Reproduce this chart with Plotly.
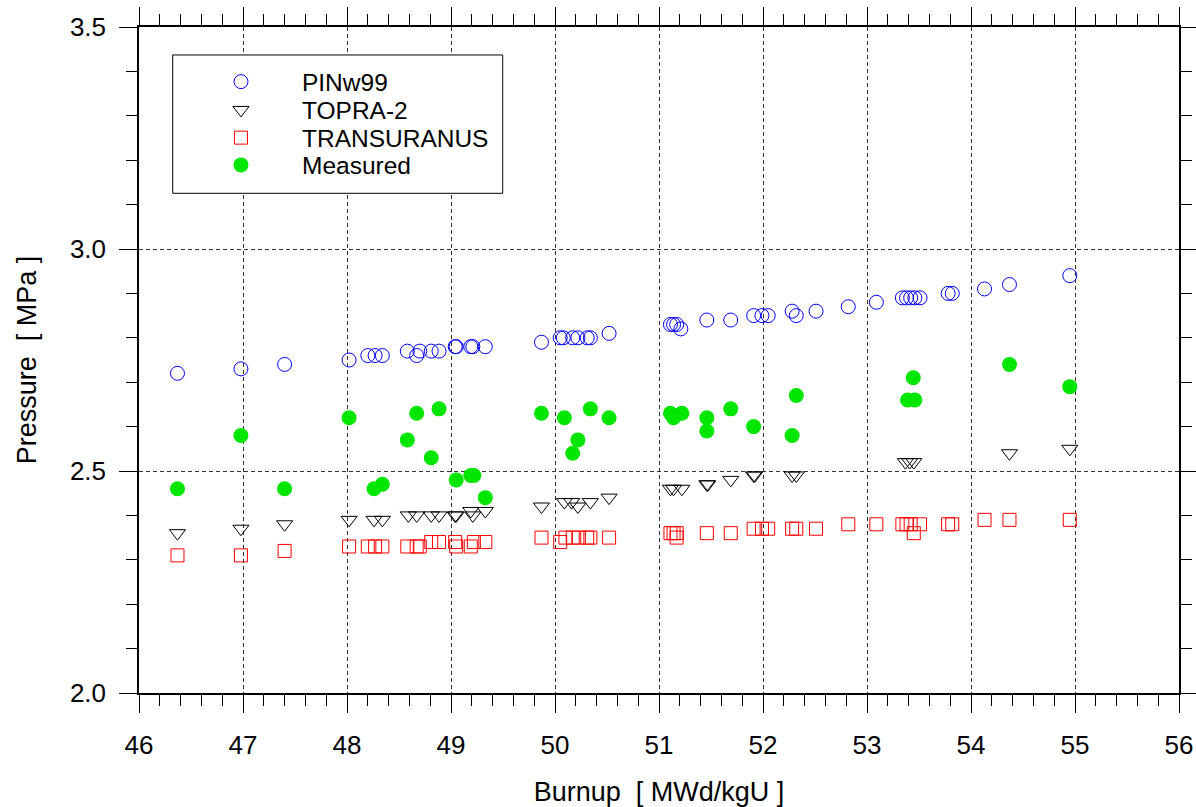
import plotly.graph_objects as go

# ---------------- data ----------------
pin_x = [46.37, 46.98, 47.40, 48.02, 48.20, 48.27, 48.34, 48.58, 48.67, 48.70, 48.81, 48.885,
         49.04, 49.05, 49.19, 49.21, 49.33, 49.87, 50.05, 50.08, 50.17, 50.22, 50.31, 50.34,
         50.52, 51.11, 51.14, 51.17, 51.21, 51.46, 51.69, 51.91, 51.99, 52.05, 52.28, 52.32,
         52.51, 52.82, 53.09, 53.34, 53.38, 53.42, 53.46, 53.51, 53.78, 53.82, 54.13, 54.37, 54.95]
pin_y = [2.72, 2.73, 2.74, 2.75, 2.76, 2.76, 2.76, 2.77, 2.76, 2.77, 2.77, 2.77,
         2.78, 2.78, 2.78, 2.78, 2.78, 2.79, 2.80, 2.80, 2.80, 2.80, 2.80, 2.80,
         2.81, 2.83, 2.83, 2.83, 2.82, 2.84, 2.84, 2.85, 2.85, 2.85, 2.86, 2.85,
         2.86, 2.87, 2.88, 2.89, 2.89, 2.89, 2.89, 2.89, 2.90, 2.90, 2.91, 2.92, 2.94]

topra_x = [46.37, 46.98, 47.40, 48.02, 48.26, 48.34, 48.59, 48.67, 48.81, 48.885, 49.04, 49.05,
           49.19, 49.21, 49.33, 49.87, 50.09, 50.16, 50.22, 50.34, 50.52, 51.11, 51.14, 51.22,
           51.46, 51.47, 51.69, 51.91, 51.92, 52.28, 52.32, 53.37, 53.41, 53.45, 54.37, 54.95]
topra_y = [2.36, 2.37, 2.38, 2.39, 2.39, 2.39, 2.40, 2.40, 2.40, 2.40, 2.40, 2.40,
           2.41, 2.40, 2.41, 2.42, 2.43, 2.43, 2.42, 2.43, 2.44, 2.46, 2.46, 2.46,
           2.47, 2.47, 2.48, 2.49, 2.49, 2.49, 2.49, 2.52, 2.52, 2.52, 2.54, 2.55]

tu_x = [46.37, 46.98, 47.40, 48.02, 48.20, 48.27, 48.34, 48.58, 48.67, 48.70, 48.81, 48.885,
        49.04, 49.05, 49.19, 49.22, 49.33, 49.87, 50.05, 50.10, 50.17, 50.23, 50.31, 50.34,
        50.52, 51.11, 51.14, 51.17, 51.17, 51.46, 51.69, 51.91, 51.99, 52.05, 52.28, 52.32,
        52.51, 52.82, 53.09, 53.34, 53.38, 53.42, 53.45, 53.51, 53.78, 53.82, 54.13, 54.37, 54.95]
tu_y = [2.31, 2.31, 2.32, 2.33, 2.33, 2.33, 2.33, 2.33, 2.33, 2.33, 2.34, 2.34,
        2.34, 2.33, 2.33, 2.34, 2.34, 2.35, 2.34, 2.35, 2.35, 2.35, 2.35, 2.35,
        2.35, 2.36, 2.36, 2.36, 2.35, 2.36, 2.36, 2.37, 2.37, 2.37, 2.37, 2.37,
        2.37, 2.38, 2.38, 2.38, 2.38, 2.38, 2.36, 2.38, 2.38, 2.38, 2.39, 2.39, 2.39]

meas_x = [46.37, 46.98, 47.40, 48.02, 48.26, 48.34, 48.58, 48.67, 48.81, 48.885, 49.05, 49.19,
          49.22, 49.33, 49.87, 50.09, 50.17, 50.22, 50.34, 50.52, 51.11, 51.14, 51.22, 51.46,
          51.46, 51.69, 51.91, 52.28, 52.32, 53.39, 53.445, 53.46, 54.37, 54.95]
meas_y = [2.46, 2.58, 2.46, 2.62, 2.46, 2.47, 2.57, 2.63, 2.53, 2.64, 2.48, 2.49,
          2.49, 2.44, 2.63, 2.62, 2.54, 2.57, 2.64, 2.62, 2.63, 2.62, 2.63, 2.62,
          2.59, 2.64, 2.60, 2.58, 2.67, 2.66, 2.71, 2.66, 2.74, 2.69]

series_names = ["PINw99", "TOPRA-2", "TRANSURANUS", "Measured"]
x_title = "Burnup\u00a0\u00a0[ MWd/kgU ]"
y_title = "Pressure\u00a0\u00a0[ MPa ]"

# ---------------- figure ----------------
FONT = "Liberation Sans, Arial, sans-serif"
fig = go.Figure()

fig.add_trace(go.Scatter(x=pin_x, y=pin_y, mode="markers", name=series_names[0], legend="legend",
                         marker=dict(symbol="circle-open", size=14, color="#0000ff", line=dict(width=1))))
fig.add_trace(go.Scatter(x=topra_x, y=topra_y, mode="markers", name=series_names[1], legend="legend2",
                         marker=dict(symbol="triangle-down-open", size=14, color="#000000", line=dict(width=1))))
fig.add_trace(go.Scatter(x=tu_x, y=tu_y, mode="markers", name=series_names[2], legend="legend3",
                         marker=dict(symbol="square-open", size=13, color="#ff0000", line=dict(width=1))))
fig.add_trace(go.Scatter(x=meas_x, y=meas_y, mode="markers", name=series_names[3], legend="legend4",
                         marker=dict(symbol="circle", size=15, color="#00e600", line=dict(width=0))))

grid = dict(showgrid=True, gridcolor="#333333", gridwidth=1, griddash="4px,3px")
axis_common = dict(showline=True, linecolor="black", linewidth=1.5, mirror="allticks",
                   ticks="outside", ticklen=18, tickwidth=1, tickcolor="black",
                   tickfont=dict(family=FONT, size=26, color="black"),
                   zeroline=False, **grid)

fig.update_xaxes(range=[46, 56], dtick=1, tick0=46,
                 minor=dict(dtick=0.2, ticks="outside", ticklen=11, tickcolor="black", showgrid=False),
                 ticklabelstandoff=10,
                 title=dict(text=x_title, font=dict(family=FONT, size=27, color="black"), standoff=28),
                 **axis_common)
fig.update_yaxes(range=[2.0, 3.5], dtick=0.5, tick0=2.0, tickformat=".1f",
                 minor=dict(dtick=0.1, ticks="outside", ticklen=11, tickcolor="black", showgrid=False),
                 ticklabelstandoff=8,
                 title=dict(text=y_title, font=dict(family=FONT, size=27, color="black"), standoff=25),
                 **axis_common)

legend_rows_px = [81.7, 110.0, 137.7, 165.0]
plot_top, plot_h = 27, 666
leg_common = dict(x=0.0394, xanchor="left", yanchor="middle", bgcolor="rgba(0,0,0,0)",
                  borderwidth=0, itemwidth=112, font=dict(family=FONT, size=24.5, color="black"))
legends = {}
for i, key in enumerate(["legend", "legend2", "legend3", "legend4"]):
    legends[key] = dict(y=1 - (legend_rows_px[i] - plot_top) / plot_h, **leg_common)

fig.update_layout(
    width=1196, height=807,
    margin=dict(l=139, r=17, t=27, b=114, autoexpand=False),
    paper_bgcolor="white", plot_bgcolor="white",
    showlegend=True,
    shapes=[dict(type="rect", xref="paper", yref="paper", x0=0.0324, x1=0.3497, y0=0.7503, y1=0.958,
                 line=dict(color="black", width=1), fillcolor="white", layer="above")],
    **legends,
)

fig.write_html("out.html", config={"displayModeBar": False},
               post_script="document.body.style.margin='0';document.body.style.overflow='hidden';")
